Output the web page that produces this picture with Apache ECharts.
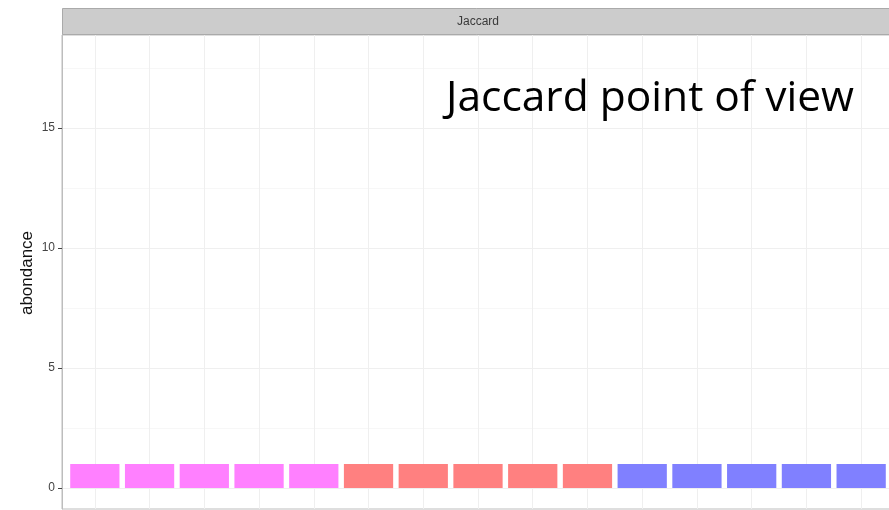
<!DOCTYPE html>
<html>
<head>
<meta charset="utf-8">
<script src="https://cdn.jsdelivr.net/npm/echarts@6/dist/echarts.min.js"></script>
<style>
  html, body { margin: 0; padding: 0; background: #fff; }
  #chart { width: 889px; height: 510px; }
</style>
</head>
<body>
<div id="chart"></div>
<script>
// Samples (x positions 1..15), abundance and group of each sample
const samples = [1, 2, 3, 4, 5, 6, 7, 8, 9, 10, 11, 12, 13, 14, 15];
const abundance = [1, 1, 1, 1, 1, 1, 1, 1, 1, 1, 1, 1, 1, 1, 1];
const groups = ['A', 'A', 'A', 'A', 'A', 'B', 'B', 'B', 'B', 'B', 'C', 'C', 'C', 'C', 'C'];
const groupColors = { A: '#ff80ff', B: '#ff8080', C: '#8080ff' };

const yTicks = [0, 5, 10, 15];
const yMinor = [2.5, 7.5, 12.5, 17.5];
const yTitle = 'abondance';
const facetTitle = 'Jaccard';
const annotation = 'Jaccard point of view';

const chart = echarts.init(document.getElementById('chart'));

// panel runs a few pixels past the right edge of the canvas
const GRID = { left: 62, top: 35, width: 832, height: 474 };

const gridLines = [].concat(
  yMinor.map(v => ({ yAxis: v, lineStyle: { color: '#f7f7f7', width: 1, type: 'solid' } })),
  yTicks.map(v => ({ yAxis: v, lineStyle: { color: '#efefef', width: 1, type: 'solid' } })),
  samples.map(v => ({ xAxis: v, lineStyle: { color: '#efefef', width: 1, type: 'solid' } }))
);

chart.setOption({
  animation: false,
  grid: Object.assign({
    show: true, borderColor: '#bdbdbd', borderWidth: 1, backgroundColor: '#fff',
    containLabel: false, outerBoundsMode: 'none'
  }, GRID),
  xAxis: {
    type: 'value', min: 0.4, max: 15.6,
    axisLine: { show: false }, axisTick: { show: false }, axisLabel: { show: false },
    splitLine: { show: false }
  },
  yAxis: {
    type: 'value', min: -0.87, max: 18.87,
    axisLine: { show: true, lineStyle: { color: '#bdbdbd', width: 1 } },
    axisTick: { show: true, length: 4, customValues: yTicks, lineStyle: { color: '#444' } },
    axisLabel: { customValues: yTicks, fontFamily: 'Liberation Sans', fontSize: 12, color: '#444', margin: 7 },
    splitLine: { show: false }
  },
  graphic: [
    {
      type: 'rect', left: GRID.left, top: 8, z: 10,
      shape: { width: GRID.width, height: 26 },
      style: { fill: '#cccccc', stroke: '#aaaaaa', lineWidth: 1 }
    },
    {
      type: 'text', x: GRID.left + GRID.width / 2, y: 22, z: 11,
      style: { text: facetTitle, fill: '#3a3a3a', font: '12px "Liberation Sans"', textAlign: 'center', textVerticalAlign: 'middle' }
    },
    {
      type: 'text', x: 27, y: 273, rotation: Math.PI / 2, z: 11,
      style: { text: yTitle, fill: '#111', font: '17px "Liberation Sans"', textAlign: 'center', textVerticalAlign: 'middle' }
    },
    {
      type: 'text', x: 446, y: 120, z: 11,
      style: { text: annotation, fill: '#000', font: '42.5px "Open Sans"', textAlign: 'left', textVerticalAlign: 'bottom' }
    }
  ],
  series: [{
    type: 'custom',
    coordinateSystem: 'cartesian2d',
    data: samples.map((s, i) => [s, abundance[i], groups[i]]),
    encode: { x: 0, y: 1 },
    renderItem: function (params, api) {
      const x = api.value(0), y = api.value(1);
      const p0 = api.coord([x - 0.45, y]);
      const p1 = api.coord([x + 0.45, 0]);
      return {
        type: 'rect',
        shape: { x: p0[0], y: p0[1], width: p1[0] - p0[0], height: p1[1] - p0[1] },
        style: { fill: groupColors[groups[params.dataIndex]] }
      };
    },
    markLine: {
      silent: true, symbol: 'none', label: { show: false },
      data: gridLines, z: 0
    },
    z: 2
  }]
});
</script>
</body>
</html>
